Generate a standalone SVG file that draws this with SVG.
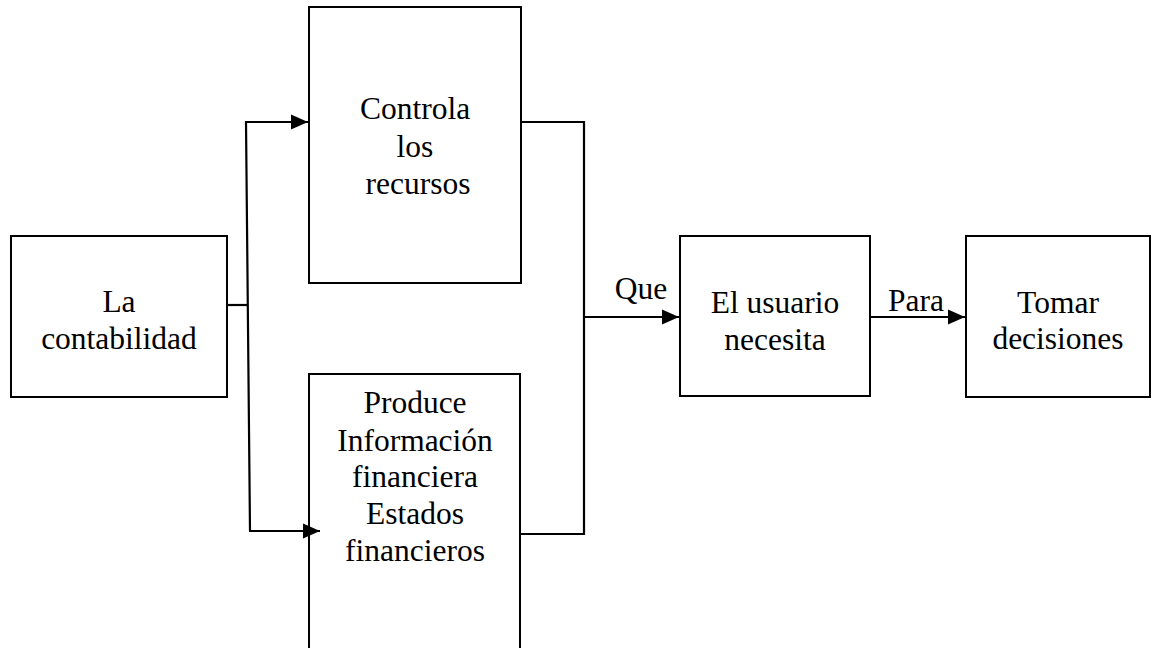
<svg xmlns="http://www.w3.org/2000/svg" width="1154" height="648" viewBox="0 0 1154 648">
  <style>
    .box { fill: #ffffff; stroke: #000000; stroke-width: 2; }
    .lbl { font-family: "Liberation Serif", "Times New Roman", serif; font-size: 31.5px; fill: #000000; text-anchor: middle; }
    .wire { fill: none; stroke: #000000; stroke-width: 2.2; }
  </style>
  <defs>
    <marker id="arrow" markerUnits="userSpaceOnUse" markerWidth="17" markerHeight="17" viewBox="0 0 17 17" refX="17" refY="8.5" orient="auto">
      <path d="M0,1 L17,8.5 L0,16 Z" fill="#000000"/>
    </marker>
  </defs>

  <rect width="1154" height="648" fill="#ffffff"/>

  <g id="node-contabilidad">
    <rect class="box" x="11" y="236" width="216" height="161"/>
    <text class="lbl" x="119" y="312">La</text>
    <text class="lbl" x="119" y="349">contabilidad</text>
  </g>

  <g id="node-controla">
    <rect class="box" x="309" y="7" width="212" height="276"/>
    <text class="lbl" x="415" y="119">Controla</text>
    <text class="lbl" x="415" y="157">los</text>
    <text class="lbl" x="418" y="194">recursos</text>
  </g>

  <g id="node-produce">
    <rect class="box" x="309" y="374" width="211" height="290"/>
    <text class="lbl" x="415" y="413">Produce</text>
    <text class="lbl" x="415" y="451">Información</text>
    <text class="lbl" x="415" y="487">financiera</text>
    <text class="lbl" x="415" y="524">Estados</text>
    <text class="lbl" x="415" y="561">financieros</text>
  </g>

  <g id="node-usuario">
    <rect class="box" x="680" y="236" width="190" height="160"/>
    <text class="lbl" x="775" y="313">El usuario</text>
    <text class="lbl" x="775" y="350">necesita</text>
  </g>

  <g id="node-decisiones">
    <rect class="box" x="966" y="236" width="184" height="161"/>
    <text class="lbl" x="1058" y="313">Tomar</text>
    <text class="lbl" x="1058" y="349">decisiones</text>
  </g>

  <!-- Connectors, drawn last so arrow tips sit over box edges -->
  <g id="connectors">
    <path class="wire" d="M227,305 H248"/>
    <path class="wire" d="M250,531 L246,122 H308" marker-end="url(#arrow)"/>
    <path class="wire" d="M249,531 H320" marker-end="url(#arrow)"/>
    <path class="wire" d="M521,122 H584 V534 H521"/>
    <path class="wire" d="M584,317 H679" marker-end="url(#arrow)"/>
    <path class="wire" d="M870,317 H965" marker-end="url(#arrow)"/>
  </g>

  <g id="edge-labels">
    <text class="lbl" x="641" y="299">Que</text>
    <text class="lbl" x="916" y="311">Para</text>
  </g>
</svg>
